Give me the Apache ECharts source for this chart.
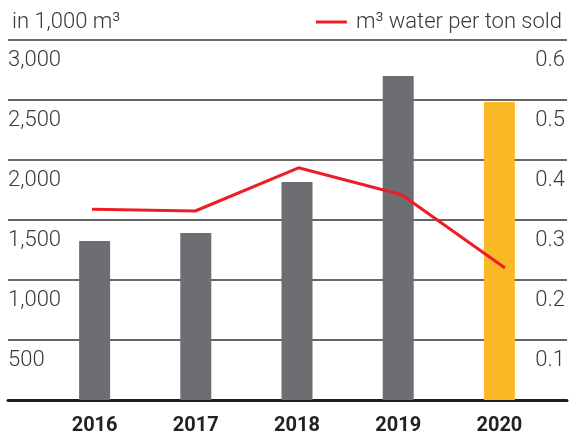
<!DOCTYPE html>
<html><head><meta charset="utf-8">
<script src="https://cdn.jsdelivr.net/npm/echarts@6/dist/echarts.min.js"></script>
<style>html,body{margin:0;padding:0;background:#fff}#c{width:569px;height:436px}</style>
</head><body><div id="c"></div>
<script>
const categories = ['2016', '2017', '2018', '2019', '2020'];
const waterVolume = [1325, 1392, 1817, 2700, 2483];
const waterPerTon = [0.318, 0.315, 0.387, 0.342, 0.22];
const leftTicks = [0, 500, 1000, 1500, 2000, 2500, 3000];
const rightTicks = [0, 0.1, 0.2, 0.3, 0.4, 0.5, 0.6];
const unitLabel = 'in 1,000 m³';
const lineName = 'm³ water per ton sold';

const FONT = 'Roboto';
const TXT = '#3a3a3c';
const FS = 22;
const chart = echarts.init(document.getElementById('c'), null, {renderer: 'canvas'});
chart.setOption({
  animation: false,
  textStyle: {fontFamily: FONT},
  title: {text: unitLabel, left: 7, top: 6,
    textStyle: {fontFamily: FONT, fontWeight: 300, fontSize: FS, color: TXT}},
  legend: {data: [lineName], right: 2, top: 6, itemWidth: 31, itemHeight: 3, itemGap: 12,
    icon: 'rect', textStyle: {fontFamily: FONT, fontWeight: 300, fontSize: FS, color: TXT, padding: [0, 0, 0, 4]}},
  grid: [
    {left: 8, right: 2, top: 40, bottom: 36},
    {left: 44, right: 19, top: 40, bottom: 36},
    {left: 40.4, right: 12.4, top: 40, bottom: 36}
  ],
  xAxis: [
    {type: 'value', gridIndex: 0, min: 0, max: 1,
      axisLine: {show: true, onZero: false, lineStyle: {color: '#1e1e1e', width: 3}},
      axisTick: {show: false}, axisLabel: {show: false}, splitLine: {show: false}},
    {type: 'category', gridIndex: 1, data: categories,
      axisLine: {show: false}, axisTick: {show: false},
      axisLabel: {margin: 16, fontFamily: FONT, fontWeight: 'bold', fontSize: 20, color: '#222'}},
    {type: 'category', gridIndex: 2, data: categories, show: false}
  ],
  yAxis: [
    {type: 'value', gridIndex: 0, min: 0, max: 3000, interval: 500,
      axisLine: {show: false}, axisTick: {show: false},
      splitLine: {show: true, lineStyle: {color: '#333', width: 1.5}},
      axisLabel: {inside: true, margin: 0, align: 'left', verticalAlign: 'top', padding: [9, 0, 0, 0],
        showMinLabel: false, fontFamily: FONT, fontWeight: 300, fontSize: FS, color: TXT,
        formatter: v => v === 0 ? '' : v.toLocaleString('en-US')}},
    {type: 'value', gridIndex: 0, position: 'right', min: 0, max: 0.6, interval: 0.1,
      axisLine: {show: false}, axisTick: {show: false}, splitLine: {show: false},
      axisLabel: {inside: true, margin: 2, align: 'right', verticalAlign: 'top', padding: [9, 0, 0, 0],
        showMinLabel: false, fontFamily: FONT, fontWeight: 300, fontSize: FS, color: TXT,
        formatter: v => v === 0 ? '' : v.toFixed(1)}},
    {type: 'value', gridIndex: 1, min: 0, max: 3000, interval: 500, show: false, splitLine: {show: false}},
    {type: 'value', gridIndex: 2, min: 0, max: 0.6, interval: 0.1, show: false, splitLine: {show: false}}
  ],
  series: [
    {type: 'bar', name: 'volume', xAxisIndex: 1, yAxisIndex: 2, barWidth: 31,
      data: waterVolume.map((v, i) => ({value: v, itemStyle: {color: i === waterVolume.length - 1 ? '#fbb827' : '#6d6e71'}}))},
    {type: 'line', name: lineName, xAxisIndex: 2, yAxisIndex: 3, data: waterPerTon,
      showSymbol: false, symbol: 'none', lineStyle: {color: '#ec1f29', width: 3}, itemStyle: {color: '#ec1f29'}}
  ]
});
</script></body></html>
